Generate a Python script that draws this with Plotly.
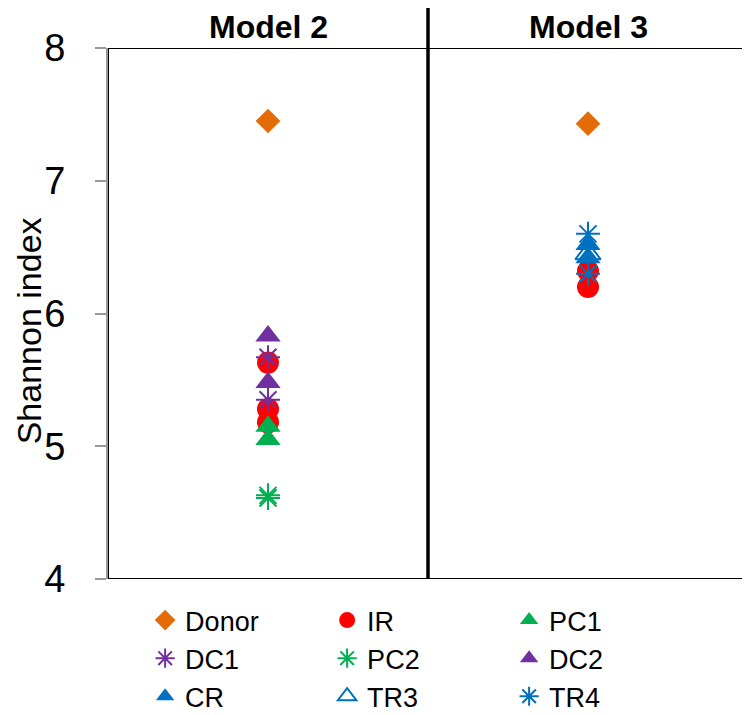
import plotly.graph_objects as go

# ---- data ----
models = ["Model 2", "Model 3"]
model_x = [0.5, 1.5]

series_names = ["Donor", "IR", "PC1", "DC1", "PC2", "DC2", "CR", "TR3", "TR4"]
series_colors = ["#E36C09", "#FF0000", "#00B050", "#7030A0", "#00B050",
                 "#7030A0", "#0070C0", "#0070C0", "#0070C0"]
series_symbols = ["diamond", "circle", "triangle-up", "asterisk-open", "asterisk-open",
                  "triangle-up", "triangle-up", "triangle-up-open", "asterisk-open"]

# values per series: (model 2 values, model 3 values)
donor_vals = ([7.45], [7.43])
ir_vals = ([5.63, 5.28, 5.18], [6.32, 6.20])
pc1_vals = ([5.15, 5.05], [])
dc1_vals = ([5.67, 5.35], [])
pc2_vals = ([4.63, 4.61], [])
dc2_vals = ([5.83, 5.48], [])
cr_vals = ([], [6.52, 6.42])
tr3_vals = ([], [6.45])
tr4_vals = ([], [6.60, 6.30])

all_vals = [donor_vals, ir_vals, pc1_vals, dc1_vals, pc2_vals,
            dc2_vals, cr_vals, tr3_vals, tr4_vals]

y_ticks = [4, 5, 6, 7, 8]
y_title = "Shannon index"

fig = go.Figure()

for name, color, sym, vals in zip(series_names, series_colors, series_symbols, all_vals):
    xs, ys = [], []
    for mx, v in zip(model_x, vals):
        xs += [mx] * len(v)
        ys += list(v)
    is_line = sym.startswith("asterisk") or sym.endswith("open")
    size = {"diamond": 19, "circle": 22, "triangle-up": 22,
            "triangle-up-open": 22}.get(sym, 20)
    marker = dict(symbol=sym, size=size, color=color,
                  line=dict(color=color, width=2 if is_line else 0))
    fig.add_trace(go.Scatter(x=xs, y=ys, mode="markers", name=name,
                             marker=marker, cliponaxis=False))

# frame box, divider
fig.add_shape(type="rect", xref="x", yref="y", x0=0, x1=2, y0=4, y1=8,
              line=dict(color="black", width=2), layer="below")
fig.add_shape(type="line", xref="x", yref="paper", x0=1, x1=1, y0=0, y1=1.08,
              line=dict(color="black", width=3.5))

for mx, m in zip(model_x, models):
    fig.add_annotation(x=mx, xref="x", y=1.0, yref="paper", yanchor="bottom",
                       yshift=1, text="<b>" + m + "</b>", showarrow=False,
                       font=dict(family="Liberation Sans, Arial", size=32, color="black"))

# y-axis title
fig.add_annotation(x=-0.123, xref="paper", xanchor="center", y=0.467, yref="paper",
                   yanchor="middle", text=y_title, textangle=-90, showarrow=False,
                   font=dict(family="Liberation Sans, Arial", size=34, color="black"))

fig.update_layout(
    width=742, height=707,
    margin=dict(l=100, r=2, t=40, b=136, autoexpand=False),
    paper_bgcolor="white", plot_bgcolor="white",
    font=dict(family="Liberation Sans, Arial", color="black"),
    showlegend=True,
    legend=dict(orientation="h", x=0.058, xanchor="left", y=-0.032, yanchor="top",
                entrywidth=137, entrywidthmode="pixels",
                font=dict(size=27, family="Liberation Sans, Arial", color="black"),
                itemsizing="trace", tracegroupgap=0, bgcolor="rgba(0,0,0,0)"),
    xaxis=dict(range=[0, 2], visible=False, fixedrange=True),
    yaxis=dict(range=[4, 8], tickvals=y_ticks, ticktext=[str(t) for t in y_ticks],
               showgrid=False, zeroline=False, showline=True, linecolor="#999999",
               linewidth=2, ticks="outside", ticklen=11, tickcolor="#999999",
               tickwidth=2, tickfont=dict(size=38, color="black"),
               ticklabelstandoff=22),
)

fig.write_html("out.html")
